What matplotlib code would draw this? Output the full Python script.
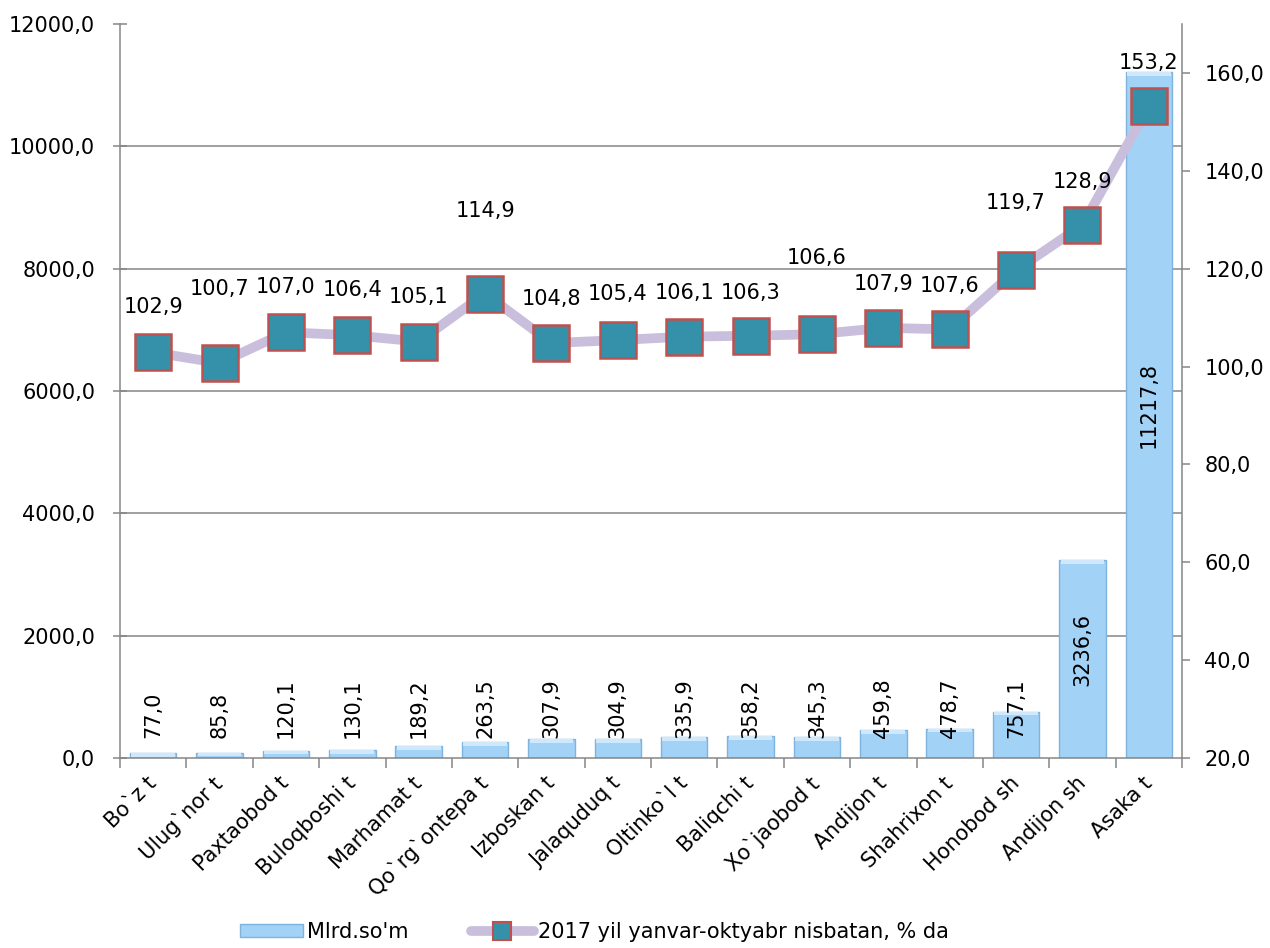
import numpy as np
import matplotlib.pyplot as plt
from matplotlib.lines import Line2D

plt.rcParams['font.family'] = ['DejaVu Sans']

districts = ["Bo`z t", "Ulug`nor t", "Paxtaobod t", "Buloqboshi t", "Marhamat t",
             "Qo`rg`ontepa t", "Izboskan t", "Jalaquduq t", "Oltinko`l t", "Baliqchi t",
             "Xo`jaobod t", "Andijon t", "Shahrixon t", "Honobod sh", "Andijon sh", "Asaka t"]
mlrd = [77.0, 85.8, 120.1, 130.1, 189.2, 263.5, 307.9, 304.9, 335.9, 358.2,
        345.3, 459.8, 478.7, 757.1, 3236.6, 11217.8]
pct = [102.9, 100.7, 107.0, 106.4, 105.1, 114.9, 104.8, 105.4, 106.1, 106.3,
       106.6, 107.9, 107.6, 119.7, 128.9, 153.2]
left_ticks = [0, 2000, 4000, 6000, 8000, 10000, 12000]
right_ticks = [20, 40, 60, 80, 100, 120, 140, 160]
bar_name = "Mlrd.so'm"
line_name = "2017 yil yanvar-oktyabr nisbatan, % da"

# label lift above markers, in pixels
lift = [45, 74, 45, 45, 45, 83, 44, 46, 44, 43, 76, 44, 43, 67, 43, 43]

def fmt(v):
    return f"{v:.1f}".replace('.', ',')

fs = 15
grey = '#868686'
px = 0.72  # points per pixel at dpi 100

fig = plt.figure(figsize=(12.7, 9.48), dpi=100)
ax = fig.add_axes([120/1270, 1 - 758/948, 1062/1270, 734/948])
x = np.arange(len(districts))

for t in left_ticks[1:-1]:
    ax.axhline(t, color=grey, lw=1.1, zorder=0)

bars = ax.bar(x, mlrd, width=0.7, color='#a3d2f7', edgecolor='#7fb3de',
              linewidth=1.0, zorder=2)
# light bevel along the top of each bar
ax.bar(x, [min(v, 60) for v in mlrd], bottom=[v - min(v, 60) for v in mlrd],
       width=0.66, color='#cfe8fc', linewidth=0, zorder=2.5)

for i, v in enumerate(mlrd):
    if v < 1000:
        ax.annotate(fmt(v), (i, 0), xytext=(0, 20*px), textcoords='offset points',
                    rotation=90, ha='center', va='bottom', fontsize=fs, zorder=4)
    else:
        ax.annotate(fmt(v), (i, v/2), xytext=(0, 10*px), textcoords='offset points',
                    rotation=90, ha='center', va='center', fontsize=fs, zorder=4)

ax.set_xlim(-0.5, len(districts) - 0.5)
ax.set_ylim(0, 12000)
ax.set_yticks(left_ticks)
ax.set_yticklabels([fmt(t) for t in left_ticks])
ax.tick_params(axis='y', direction='inout', length=10, width=1.1, color=grey,
               labelsize=fs, pad=13)
ax.set_xticks(x)
ax.set_xticklabels(districts, rotation=45, ha='right', va='center',
                   rotation_mode='anchor', fontsize=fs)
ax.tick_params(axis='x', which='major', length=0, pad=16)
ax.set_xticks(np.arange(-0.5, len(districts)), minor=True)
ax.tick_params(axis='x', which='minor', direction='out', length=7, width=1.1, color=grey)
for s in ['top', 'right']:
    ax.spines[s].set_visible(False)
for s in ['left', 'bottom']:
    ax.spines[s].set_color(grey)
    ax.spines[s].set_linewidth(1.1)

ax2 = ax.twinx()
ax2.plot(x, pct, color='#c9bfdc', lw=7, solid_capstyle='round', marker='s', ms=26,
         mfc='#3591a9', mec='#c0504d', mew=1.8, zorder=3)
for i, v in enumerate(pct):
    ax2.annotate(fmt(v), (i, v), xytext=(0, lift[i]*px), textcoords='offset points',
                 ha='center', va='center', fontsize=fs)
ax2.set_ylim(20, 170)
ax2.set_yticks(right_ticks)
ax2.set_yticklabels([fmt(t) for t in right_ticks])
ax2.tick_params(axis='y', direction='out', length=6, width=1.1, color=grey,
                labelsize=fs, pad=10)
for s in ['top', 'left', 'bottom']:
    ax2.spines[s].set_visible(False)
ax2.spines['right'].set_color(grey)
ax2.spines['right'].set_linewidth(1.1)

line_handle = Line2D([], [], color='#c9bfdc', lw=7, solid_capstyle='round', marker='s',
                     ms=13, mfc='#3591a9', mec='#c0504d', mew=1.5)
fig.legend([bars, line_handle], [bar_name, line_name], loc='center left',
           bbox_to_anchor=(230/1270, 1 - 932/948), ncol=2, frameon=False, fontsize=fs,
           handlelength=3.0, handleheight=0.6, columnspacing=3, handletextpad=0.2,
           borderpad=0)

fig.savefig('out.png', dpi=100)
